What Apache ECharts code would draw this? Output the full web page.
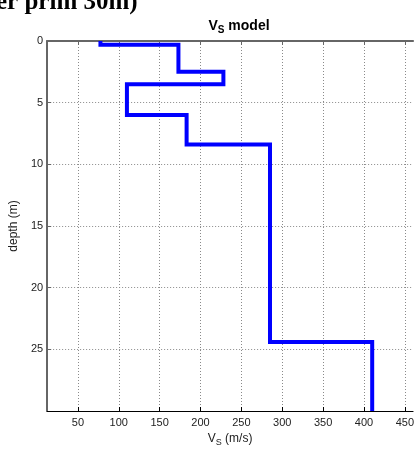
<!DOCTYPE html>
<html>
<head>
<meta charset="utf-8">
<script src="https://cdn.jsdelivr.net/npm/echarts@6/dist/echarts.min.js"></script>
<style>html,body{margin:0;padding:0;background:#fff}#c{width:417px;height:452px}</style>
</head>
<body>
<div id="c"></div>
<script>
// Layer model
var layerVs = [77.6, 173, 228, 110, 183, 285, 410];      // m/s
var layerTops = [0, 0.3, 2.5, 3.5, 6, 8.4, 24.4];        // m
var maxDepth = 30;
var xTicks = [50, 100, 150, 200, 250, 300, 350, 400, 450];
var yTicks = [0, 5, 10, 15, 20, 25];

var stairs = [];
for (var i = 0; i < layerVs.length; i++) {
  var bottom = (i + 1 < layerTops.length) ? layerTops[i + 1] : maxDepth;
  stairs.push([layerVs[i], layerTops[i]]);
  stairs.push([layerVs[i], bottom]);
}

var FONT = 'Liberation Sans, Arial, sans-serif';
var chart = echarts.init(document.getElementById('c'), null, {renderer: 'canvas'});
var dotted = {color: '#8a8a8a', width: 1, type: [1, 2]};

chart.setOption({
  animation: false,
  backgroundColor: '#fff',
  title: {
    text: '{b|V}{s|S}{b| model}',
    left: 234, top: 13, textAlign: 'center',
    textStyle: {
      rich: {
        b: {fontFamily: FONT, fontWeight: 'bold', fontSize: 14, color: '#000'},
        s: {fontFamily: FONT, fontWeight: 'bold', fontSize: 10, color: '#000', verticalAlign: 'bottom', padding: [7, 0, 0, 0]}
      }
    }
  },
  graphic: [{
    type: 'text',
    left: -4, top: -10,
    style: {text: 'er prim 30m)', font: 'bold 25px "Liberation Serif", "Times New Roman", serif', fill: '#000'}
  }],
  grid: {left: 44, right: 0, top: 41, bottom: 33},
  xAxis: [{
    type: 'value', min: 12.4, max: 460, position: 'bottom',
    name: '{n|V}{s|S}{n| (m/s)}', nameLocation: 'middle', nameGap: 20,
    nameTextStyle: {rich: {
      n: {fontFamily: FONT, fontSize: 12, color: '#222'},
      s: {fontFamily: FONT, fontSize: 9, color: '#222', verticalAlign: 'bottom', padding: [7, 0, 0, 0]}
    }},
    axisLine: {show: true, onZero: false, lineStyle: {color: '#000', width: 1}},
    axisTick: {show: true, inside: true, length: 4, customValues: xTicks, lineStyle: {color: '#000'}},
    axisLabel: {customValues: xTicks, fontFamily: FONT, fontSize: 11, color: '#222', margin: 6},
    splitLine: {show: true, customValues: xTicks, lineStyle: dotted}
  }, {
    type: 'value', min: 12.4, max: 460, position: 'top',
    axisLine: {show: true, onZero: false, lineStyle: {color: '#666', width: 2}},
    axisTick: {show: true, inside: true, length: 4, customValues: xTicks, lineStyle: {color: '#666'}},
    axisLabel: {show: false},
    splitLine: {show: false}
  }],
  yAxis: {
    type: 'value', inverse: true, min: 0, max: maxDepth, interval: 5,
    name: 'depth (m)', nameLocation: 'middle', nameGap: 25,
    nameTextStyle: {fontFamily: FONT, fontSize: 12, color: '#222'},
    axisLine: {show: true, onZero: false, lineStyle: {color: '#666', width: 2}},
    axisTick: {show: true, inside: true, length: 4, lineStyle: {color: '#666'}},
    axisLabel: {fontFamily: FONT, fontSize: 11, color: '#222', margin: 4, showMaxLabel: false,
      formatter: function (v) { return yTicks.indexOf(v) >= 0 ? String(v) : ''; }},
    splitLine: {show: true, lineStyle: dotted}
  },
  series: [{
    type: 'line',
    data: stairs,
    showSymbol: false,
    symbol: 'none',
    clip: true,
    lineStyle: {color: '#0000ff', width: 4, join: 'miter'},
    z: 5
  }]
});
</script>
</body>
</html>
